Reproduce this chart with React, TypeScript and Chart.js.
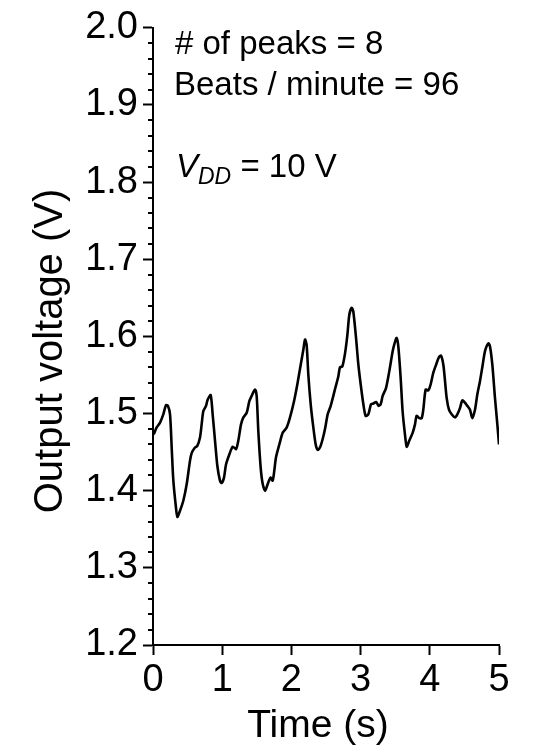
import React, { useEffect, useRef } from "react";
import { Chart, registerables } from "chart.js";

Chart.register(...registerables);

// Time (s)
const times = [
  0.01, 0.053, 0.10, 0.149, 0.188, 0.215, 0.246, 0.27, 0.294, 0.332, 0.352, 0.39, 0.438, 0.486, 0.535, 0.56,
  0.607, 0.64, 0.679, 0.703, 0.727, 0.766, 0.79, 0.833, 0.862, 0.896, 0.93, 0.968, 0.992, 1.026, 1.055,
  1.103, 1.151, 1.2, 1.233, 1.272, 1.306, 1.354, 1.392, 1.426, 1.474, 1.498, 1.522, 1.556, 1.585, 1.619,
  1.667, 1.7, 1.729, 1.753, 1.777, 1.826, 1.874, 1.932, 1.98, 2.038, 2.086, 2.134, 2.173, 2.197, 2.22,
  2.245, 2.279, 2.317, 2.351, 2.38, 2.413, 2.452, 2.49, 2.524, 2.568, 2.606, 2.64, 2.678, 2.702, 2.736,
  2.775, 2.809, 2.837, 2.871, 2.895, 2.934, 2.968, 3.001, 3.04, 3.073, 3.112, 3.15, 3.184, 3.223, 3.261,
  3.29, 3.319, 3.367, 3.415, 3.464, 3.497, 3.521, 3.545, 3.579, 3.607, 3.641, 3.666, 3.704, 3.752, 3.786,
  3.81, 3.848, 3.882, 3.906, 3.94, 3.979, 4.013, 4.051, 4.09, 4.133, 4.162, 4.196, 4.22, 4.244, 4.277,
  4.316, 4.364, 4.398, 4.436, 4.47, 4.509, 4.542, 4.581, 4.614, 4.653, 4.687, 4.725, 4.764, 4.798, 4.846,
  4.87, 4.904, 4.942, 4.976, 5.0,
];

// Output voltage (V)
const voltages = [
  1.473, 1.482, 1.488, 1.499, 1.511, 1.510, 1.499, 1.456, 1.413, 1.378, 1.366, 1.374, 1.387, 1.408, 1.439, 1.449,
  1.456, 1.458, 1.469, 1.486, 1.503, 1.510, 1.518, 1.524, 1.499, 1.465, 1.432, 1.413, 1.410, 1.417, 1.434,
  1.447, 1.457, 1.454, 1.465, 1.486, 1.495, 1.501, 1.516, 1.523, 1.531, 1.523, 1.477, 1.430, 1.409, 1.400,
  1.411, 1.417, 1.413, 1.426, 1.443, 1.460, 1.475, 1.482, 1.495, 1.516, 1.538, 1.563, 1.583, 1.596, 1.589,
  1.550, 1.512, 1.482, 1.460, 1.453, 1.456, 1.467, 1.482, 1.499, 1.510, 1.523, 1.535, 1.548, 1.560, 1.561,
  1.578, 1.602, 1.628, 1.637, 1.632, 1.598, 1.563, 1.538, 1.512, 1.497, 1.499, 1.512, 1.513, 1.515, 1.510,
  1.512, 1.523, 1.533, 1.555, 1.581, 1.593, 1.598, 1.587, 1.546, 1.503, 1.473, 1.457, 1.465, 1.475, 1.486,
  1.497, 1.494, 1.494, 1.505, 1.531, 1.530, 1.538, 1.553, 1.563, 1.573, 1.575, 1.563, 1.542, 1.520, 1.505,
  1.499, 1.495, 1.499, 1.507, 1.517, 1.514, 1.510, 1.505, 1.494, 1.505, 1.525, 1.542, 1.563, 1.581, 1.591,
  1.587, 1.563, 1.520, 1.486, 1.460,
];

const xTicks = [0, 1, 2, 3, 4, 5];
const yMin = 1.2;
const yMax = 2.0;

const annotationLines = ["# of peaks = 8", "Beats / minute = 96"];
const xTitle = "Time (s)";
const yTitle = "Output voltage (V)";

const FONT = '"Liberation Sans", Arial, Helvetica, sans-serif';

const decorPlugin = {
  id: "decor",
  afterDraw(chart: any) {
    const ctx = chart.ctx;
    const y = chart.scales.y;
    const area = chart.chartArea;
    ctx.save();
    // minor ticks on y axis (every 0.02)
    ctx.strokeStyle = "#000";
    ctx.lineWidth = 2;
    for (let i = 61; i < 100; i++) {
      if (i % 5 === 0) continue;
      const py = Math.round(y.getPixelForValue(i / 50));
      ctx.beginPath();
      ctx.moveTo(area.left - 5, py);
      ctx.lineTo(area.left, py);
      ctx.stroke();
    }
    ctx.fillStyle = "#000";
    // axis titles
    ctx.font = `39px ${FONT}`;
    ctx.textAlign = "center";
    ctx.textBaseline = "alphabetic";
    ctx.fillText(xTitle, 318, 737);
    ctx.save();
    ctx.translate(62, 351);
    ctx.rotate(-Math.PI / 2);
    ctx.font = `40px ${FONT}`;
    ctx.fillText(yTitle, 0, 0);
    ctx.restore();
    // annotations
    ctx.textAlign = "left";
    ctx.font = `33px ${FONT}`;
    ctx.fillText(annotationLines[0], 175, 54);
    ctx.fillText(annotationLines[1], 174, 95);
    let x = 176;
    ctx.font = `italic 33px ${FONT}`;
    ctx.fillText("V", x, 177);
    x += ctx.measureText("V").width;
    ctx.font = `italic 23px ${FONT}`;
    ctx.fillText("DD", x, 184);
    x += ctx.measureText("DD").width;
    ctx.font = `33px ${FONT}`;
    ctx.fillText(" = 10 V", x, 177);
    ctx.restore();
  },
};

export default function App() {
  const ref = useRef<HTMLCanvasElement | null>(null);
  useEffect(() => {
    if (!ref.current) return;
    const data = times.map((t, i) => ({ x: t, y: voltages[i] }));
    const chart = new Chart(ref.current, {
      type: "line",
      data: {
        datasets: [
          {
            data,
            borderColor: "#000",
            borderWidth: 2.6,
            pointRadius: 0,
            tension: 0.25,
            fill: false,
          },
        ],
      },
      plugins: [decorPlugin],
      options: {
        animation: false,
        responsive: false,
        maintainAspectRatio: false,
        layout: { padding: { top: 25, right: 34, left: 0, bottom: 0 } },
        plugins: { legend: { display: false }, tooltip: { enabled: false } },
        scales: {
          x: {
            type: "linear",
            min: 0,
            max: 5,
            afterBuildTicks: (s: any) => {
              s.ticks = xTicks.map((v) => ({ value: v }));
            },
            afterFit: (s: any) => {
              s.height = 100;
            },
            ticks: {
              color: "#000",
              font: { family: FONT, size: 38 },
              padding: 3,
              maxRotation: 0,
              callback: (v: any) => String(v),
            },
            grid: { drawOnChartArea: false, tickLength: 10, tickColor: "#000", tickWidth: 2 },
            border: { color: "#000", width: 2 },
          },
          y: {
            type: "linear",
            min: yMin,
            max: yMax,
            afterBuildTicks: (s: any) => {
              const t = [];
              for (let i = 12; i <= 20; i++) t.push({ value: i / 10 });
              s.ticks = t;
            },
            afterFit: (s: any) => {
              s.width = 153;
            },
            ticks: {
              color: "#000",
              font: { family: FONT, size: 38 },
              padding: 5,
              callback: (v: any) => Number(v).toFixed(1),
            },
            grid: { drawOnChartArea: false, tickLength: 10, tickColor: "#000", tickWidth: 2 },
            border: { color: "#000", width: 2 },
          },
        },
      },
    });
    return () => chart.destroy();
  }, []);
  return (
    <div style={{ position: "absolute", left: 0, top: 0, width: 533, height: 745 }}>
      <canvas ref={ref} width={533} height={745} style={{ width: 533, height: 745 }} />
    </div>
  );
}
